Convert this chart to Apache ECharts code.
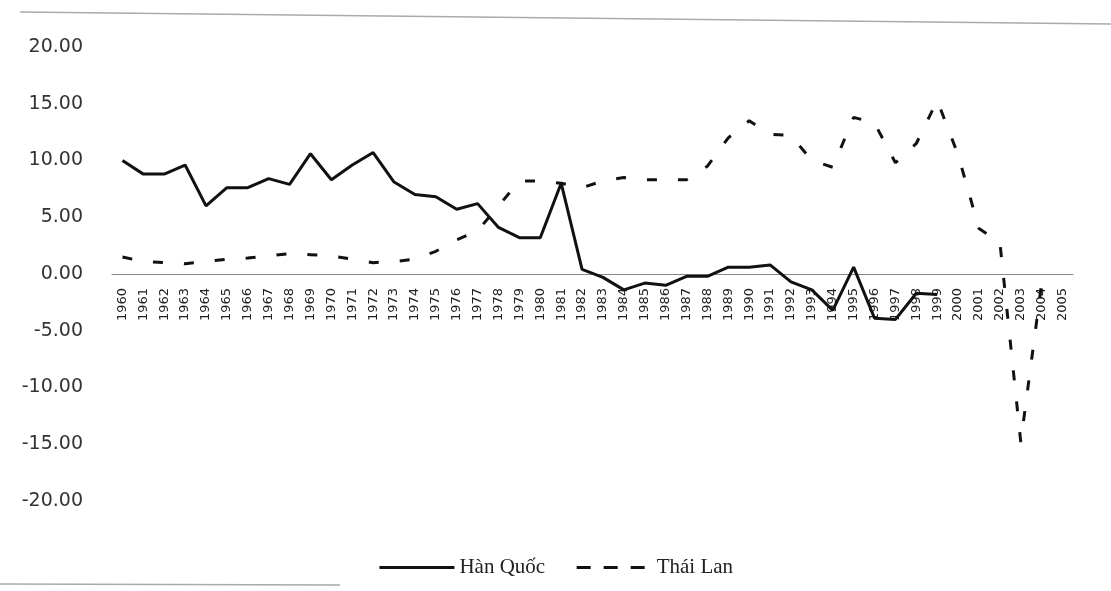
<!DOCTYPE html>
<html>
<head>
<meta charset="utf-8">
<script src="https://cdn.jsdelivr.net/npm/echarts@6/dist/echarts.min.js"></script>
<style>
  html, body { margin: 0; padding: 0; background: #fff; }
  #main { width: 1111px; height: 591px; }
</style>
</head>
<body>
<div id="main"></div>
<script>
// years on the x axis
let years = []
for (let y = 1960; y <= 2005; y++) {
    years.push(String(y))
}

// Hàn Quốc (solid), ends 1999
let hanQuoc = [
    10.0, 8.8, 8.8, 9.6, 6.0, 7.6, 7.6, 8.4, 7.9, 10.6,
    8.3, 9.6, 10.7, 8.1, 7.0, 6.8, 5.7, 6.2, 4.1, 3.2,
    3.2, 8.0, 0.4, -0.3, -1.4, -0.8, -1.0, -0.2, -0.2, 0.6,
    0.6, 0.8, -0.7, -1.4, -3.2, 0.6, -3.9, -4.0, -1.7, -1.8,
    null, null, null, null, null, null
]

// Thái Lan (dashed), ends 2004
let thaiLan = [
    1.5, 1.1, 1.0, 0.9, 1.1, 1.3, 1.4, 1.6, 1.8, 1.7,
    1.6, 1.3, 1.0, 1.1, 1.3, 2.0, 3.0, 3.8, 6.0, 8.2,
    8.2, 8.0, 7.6, 8.2, 8.5, 8.3, 8.3, 8.3, 9.5, 12.0,
    13.5, 12.3, 12.2, 10.0, 9.4, 13.8, 13.3, 9.8, 11.5, 15.3,
    10.5, 4.0, 2.8, -14.8, -0.8, null
]

let yMin = -20
let yMax = 20
let yStep = 5

let gridTop = 47
let gridHeight = 454
// x axis sits on the zero line, so shift it up from the grid bottom
let zeroOffset = -gridHeight * (0 - yMin) / (yMax - yMin)

let myChart = echarts.init(document.getElementById('main'))

let option = {
    backgroundColor: '#fff',
    animation: false,
    grid: {
        left: 112,
        right: 38,
        top: gridTop,
        height: gridHeight
    },
    legend: {
        bottom: 8,
        left: 'center',
        itemWidth: 75,
        itemHeight: 14,
        itemGap: 30,
        textStyle: {
            fontFamily: 'Liberation Serif',
            fontSize: 21,
            color: '#222'
        },
        data: [{
            name: 'Hàn Quốc',
            itemStyle: { color: 'transparent', borderWidth: 0 },
            lineStyle: { type: 'solid', width: 3, color: '#111' }
        }, {
            name: 'Thái Lan',
            itemStyle: { color: 'transparent', borderWidth: 0 },
            lineStyle: { type: [14, 13], width: 3, color: '#111' }
        }]
    },
    xAxis: {
        type: 'category',
        data: years,
        offset: zeroOffset,
        axisLine: {
            onZero: false,
            lineStyle: { color: '#888', width: 1 }
        },
        axisTick: { show: false },
        axisLabel: {
            rotate: 90,
            interval: 0,
            margin: 14,
            fontFamily: 'DejaVu Sans',
            fontSize: 13,
            color: '#222'
        },
        splitLine: { show: false }
    },
    yAxis: {
        type: 'value',
        min: yMin,
        max: yMax,
        interval: yStep,
        axisLine: { show: false },
        axisTick: { show: false },
        splitLine: { show: false },
        axisLabel: {
            margin: 29,
            fontFamily: 'DejaVu Sans',
            fontSize: 19,
            color: '#333',
            formatter: function(v) {
                return v.toFixed(2)
            }
        }
    },
    graphic: [{
        type: 'line',
        shape: { x1: 20, y1: 12, x2: 1111, y2: 24 },
        style: { stroke: '#aaa', lineWidth: 1.5 }
    }, {
        type: 'line',
        shape: { x1: 0, y1: 584, x2: 340, y2: 585 },
        style: { stroke: '#aaa', lineWidth: 1.5 }
    }],
    series: [{
        name: 'Hàn Quốc',
        type: 'line',
        data: hanQuoc,
        symbol: 'none',
        lineStyle: { color: '#111', width: 3, type: 'solid' },
        itemStyle: { color: '#111' }
    }, {
        name: 'Thái Lan',
        type: 'line',
        data: thaiLan,
        symbol: 'none',
        lineStyle: { color: '#111', width: 3, type: [10, 21] },
        itemStyle: { color: '#111' }
    }]
}
myChart.setOption(option)
</script>
</body>
</html>
